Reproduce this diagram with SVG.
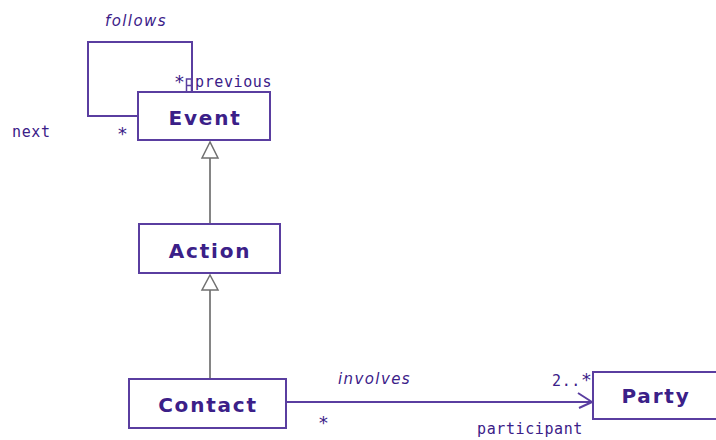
<svg xmlns="http://www.w3.org/2000/svg" width="716" height="440" viewBox="0 0 716 440">
  <style>
    .box { fill: #ffffff; stroke: #5a3ea0; stroke-width: 2; }
    .name { font-family: "DejaVu Sans", sans-serif; font-weight: bold; font-size: 20px; fill: #3b2088; text-anchor: middle; letter-spacing: 1.8px; }
    .lbl { font-family: "DejaVu Sans Mono", monospace; font-size: 15px; fill: #3b2088; letter-spacing: 0.6px; }
    .star { font-family: "DejaVu Sans Mono", monospace; font-size: 18px; fill: #3b2088; }
    .role { font-family: "DejaVu Sans", sans-serif; font-style: italic; font-size: 15px; fill: #3b2088; letter-spacing: 1.4px; }
    .assoc { fill: none; stroke: #5a3ea0; stroke-width: 2; }
    .gen { fill: none; stroke: #858585; stroke-width: 2; }
    .tri { fill: #ffffff; stroke: #707070; stroke-width: 1.5; }
  </style>
  <rect width="716" height="440" fill="#ffffff"/>

  <g id="connectors">
    <!-- self association on Event -->
    <polyline class="assoc" points="138,116 88,116 88,42 192,42 192,92"/>
    <rect x="186.5" y="79" width="5" height="13" fill="none" stroke="#5a3ea0" stroke-width="1.5"/>
    <line x1="186.5" y1="85.5" x2="191.5" y2="85.5" stroke="#5a3ea0" stroke-width="1.5"/>
    <!-- Action extends Event -->
    <line class="gen" x1="210" y1="158" x2="210" y2="224"/>
    <polygon class="tri" points="210,142 202,158 218,158"/>
    <!-- Contact extends Action -->
    <line class="gen" x1="210" y1="290" x2="210" y2="379"/>
    <polygon class="tri" points="210,275 202,290 218,290"/>
    <!-- Contact involves Party -->
    <line class="assoc" x1="286" y1="402" x2="593" y2="402"/>
    <polyline class="assoc" points="578,393 592,402 579,408"/>
  </g>

  <g id="event">
    <rect class="box" x="138" y="92" width="132" height="48"/>
    <text class="name" x="205" y="125">Event</text>
  </g>
  <g id="action">
    <rect class="box" x="139" y="224" width="141" height="49"/>
    <text class="name" x="210" y="258">Action</text>
  </g>
  <g id="contact">
    <rect class="box" x="129" y="379" width="157" height="49"/>
    <text class="name" x="208" y="412">Contact</text>
  </g>
  <g id="party">
    <rect class="box" x="593" y="372" width="130" height="47"/>
    <text class="name" x="656" y="403">Party</text>
  </g>

  <g id="labels">
    <text class="role" x="105" y="26">follows</text>
    <text class="star" x="174" y="88">*</text>
    <text class="lbl" x="195" y="87">previous</text>
    <text class="lbl" x="12" y="137" letter-spacing="2.5">next</text>
    <text class="star" x="117" y="140">*</text>
    <text class="role" x="338" y="384">involves</text>
    <text class="lbl" x="552" y="386">2..<tspan class="star">*</tspan></text>
    <text class="star" x="318" y="429">*</text>
    <text class="lbl" x="477" y="434">participant</text>
  </g>
</svg>
